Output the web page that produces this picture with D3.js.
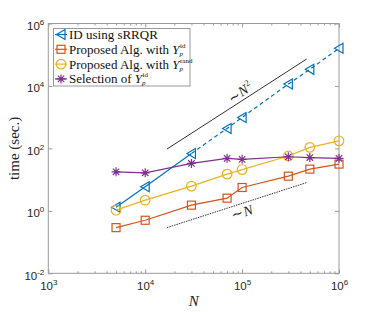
<!DOCTYPE html>
<html>
<head>
<meta charset="utf-8">
<script src="https://cdn.jsdelivr.net/npm/d3@7"></script>
<style>
  body { margin: 0; background: #fff; }
  svg { display: block; }
</style>
</head>
<body>
<svg id="chart"></svg>
<script>
// problem sizes
const sizes = [5e3, 1e4, 3e4, 7e4, 1e5, 3e5, 5e5, 1e6];

// timings (sec.)
const idSrrqr   = [1.3, 5.9, 69, 436, 980, 11500, 34000, 161000];
const propId    = [0.29, 0.50, 1.52, 2.55, 5.6, 12.9, 21.7, 31.5];
const propRand  = [1.05, 2.2, 6.2, 15, 21, 57, 108, 175];
const selection = [17.8, 16.5, 33, 48, 44.6, 54, 51, 48];

// guide lines
const guideN = [16750, 465000];
const guideN2 = [95, 73200];
const guideN1 = [0.29, 8.05];

const xMajor = [1e3, 1e4, 1e5, 1e6];
const yMajor = [1e-2, 1e0, 1e2, 1e4, 1e6];

const W = 374, H = 312;
const margin = { top: 23.5, right: 35, bottom: 38.7, left: 48.3 };
const iw = W - margin.left - margin.right;
const ih = H - margin.top - margin.bottom;

const svg = d3.select('#chart').attr('width', W).attr('height', H);
const g = svg.append('g').attr('transform', `translate(${margin.left},${margin.top})`);

const x = d3.scaleLog().domain([1e3, 1e6]).range([0, iw]);
const y = d3.scaleLog().domain([1e-2, 1e6]).range([ih, 0]);

const axisColor = '#9a9a9a';
const sans = 'Liberation Sans, Arial, sans-serif';
const serif = 'Liberation Serif, Times New Roman, serif';

// minor x ticks
let xMinor = [];
for (let d = 1e3; d < 1e6; d *= 10) {
    for (let k = 2; k <= 9; k++) xMinor.push(d * k);
}

function styleAxis(sel) {
    sel.select('.domain').remove();
    sel.selectAll('line').attr('stroke', axisColor).attr('stroke-width', 1);
}

g.append('g').attr('transform', `translate(0,${ih})`)
    .call(d3.axisBottom(x).tickValues(xMinor).tickSize(-2).tickFormat(''))
    .call(styleAxis);
g.append('g')
    .call(d3.axisTop(x).tickValues(xMinor).tickSize(-2).tickFormat(''))
    .call(styleAxis);
g.append('g').call(d3.axisTop(x).tickValues(xMajor).tickSize(-4).tickFormat('')).call(styleAxis);
g.append('g').attr('transform', `translate(${iw},0)`)
    .call(d3.axisRight(y).tickValues(yMajor).tickSize(-4).tickFormat('')).call(styleAxis);

const xAx = g.append('g').attr('transform', `translate(0,${ih})`)
    .call(d3.axisBottom(x).tickValues(xMajor).tickSize(-4).tickFormat(''))
    .call(styleAxis);
const yAx = g.append('g')
    .call(d3.axisLeft(y).tickValues(yMajor).tickSize(-4).tickFormat(''))
    .call(styleAxis);

// superscript tick labels
xAx.selectAll('.tick').append('text')
    .attr('y', 17).attr('x', 0).attr('text-anchor', 'middle')
    .attr('fill', '#262626').attr('font-family', sans).attr('font-size', 11.5)
    .each(function (d) {
        const t = d3.select(this);
        t.append('tspan').text('10');
        t.append('tspan').attr('font-size', 8).attr('dy', -5).text(Math.round(Math.log10(d)));
    });

yAx.selectAll('.tick').append('text')
    .attr('x', -4).attr('y', 6).attr('text-anchor', 'end')
    .attr('fill', '#262626').attr('font-family', sans).attr('font-size', 11.5)
    .each(function (d) {
        const t = d3.select(this);
        t.append('tspan').text('10');
        t.append('tspan').attr('font-size', 8).attr('dy', -5).text(Math.round(Math.log10(d)));
    });

// box
g.append('rect').attr('width', iw).attr('height', ih)
    .attr('fill', 'none').attr('stroke', axisColor).attr('stroke-width', 1);

// guide lines
const line = d3.line().x(d => x(d[0])).y(d => y(d[1]));
g.append('path').datum(d3.zip(guideN, guideN2)).attr('d', line)
    .attr('fill', 'none').attr('stroke', '#333').attr('stroke-width', 1);
g.append('path').datum(d3.zip(guideN, guideN1)).attr('d', line)
    .attr('fill', 'none').attr('stroke', '#333').attr('stroke-width', 1)
    .attr('stroke-dasharray', '1.5,1');

function guideLabel(xv, yv, angle, sup) {
    const t = g.append('text')
        .attr('transform', `translate(${x(xv)},${y(yv)}) rotate(${angle})`)
        .attr('text-anchor', 'middle').attr('y', 5)
        .attr('font-family', serif).attr('font-size', 14).attr('fill', '#222');
    t.append('tspan').text('∼');
    t.append('tspan').attr('font-style', 'italic').text('N');
    if (sup) t.append('tspan').attr('font-size', 9).attr('dy', -6).attr('dx', 0.5).text(sup);
}
guideLabel(9.5e4, 6300, -33, '2');
guideLabel(1e5, 0.9, -18, null);

// series
const series = [
    { name: 'id', vals: idSrrqr, color: '#0072BD', marker: 'tri' },
    { name: 'pid', vals: propId, color: '#D95319', marker: 'sq' },
    { name: 'prand', vals: propRand, color: '#EDB120', marker: 'circ' },
    { name: 'sel', vals: selection, color: '#7E2F8E', marker: 'star' },
];

function drawMarker(sel, type, color) {
    if (type === 'tri') {
        sel.append('path').attr('d', 'M-4.5,0L4,-5L4,5Z')
            .attr('fill', 'none').attr('stroke', color).attr('stroke-width', 1.2);
    } else if (type === 'sq') {
        sel.append('rect').attr('x', -4).attr('y', -4).attr('width', 8).attr('height', 8)
            .attr('fill', 'none').attr('stroke', color).attr('stroke-width', 1.2);
    } else if (type === 'circ') {
        sel.append('circle').attr('r', 4.8)
            .attr('fill', 'none').attr('stroke', color).attr('stroke-width', 1.2);
    } else {
        sel.append('path').attr('d', 'M-4.5,0H4.5M0,-4.5V4.5M-3.2,-3.2L3.2,3.2M-3.2,3.2L3.2,-3.2')
            .attr('fill', 'none').attr('stroke', color).attr('stroke-width', 1.2);
    }
}

series.forEach(s => {
    const pts = d3.zip(sizes, s.vals);
    if (s.marker === 'tri') {
        g.append('path').datum(pts.slice(0, 3)).attr('d', line)
            .attr('fill', 'none').attr('stroke', s.color).attr('stroke-width', 1.2);
        g.append('path').datum(pts.slice(2)).attr('d', line)
            .attr('fill', 'none').attr('stroke', s.color).attr('stroke-width', 1.2)
            .attr('stroke-dasharray', '4,3');
    } else {
        g.append('path').datum(pts).attr('d', line)
            .attr('fill', 'none').attr('stroke', s.color).attr('stroke-width', 1.2);
    }
    g.selectAll(null).data(pts).enter().append('g')
        .attr('transform', d => `translate(${x(d[0])},${y(d[1])})`)
        .each(function () { drawMarker(d3.select(this), s.marker, s.color); });
});

// legend
const lg = svg.append('g').attr('transform', 'translate(53.5,28.5)');
lg.append('rect').attr('width', 136.5).attr('height', 57.5)
    .attr('fill', '#fff').attr('stroke', axisColor).attr('stroke-width', 1);

const legendMain = ['ID using sRRQR', 'Proposed Alg. with ', 'Proposed Alg. with ', 'Selection of '];
const legendSup = [null, 'id', 'rand', 'id'];

series.forEach((s, i) => {
    const row = lg.append('g').attr('transform', `translate(0,${6 + i * 14.8})`);
    row.append('line').attr('x1', 1.5).attr('x2', 13.5)
        .attr('stroke', s.color).attr('stroke-width', 1.2);
    const m = row.append('g').attr('transform', 'translate(7.5,0)');
    drawMarker(m, s.marker, s.color);
    const txt = row.append('text').attr('x', 15.5).attr('y', 4.5)
        .attr('font-family', serif).attr('font-size', 13).attr('fill', '#111');
    txt.append('tspan').text(legendMain[i]);
    if (legendSup[i]) {
        txt.append('tspan').attr('font-style', 'italic').text('Y');
        const end = 15.5 + txt.node().getComputedTextLength();
        txt.append('tspan').attr('x', end).attr('y', 6.5)
            .attr('font-size', 7).attr('font-style', 'italic').text('p');
        txt.append('tspan').attr('x', end + 0.5).attr('y', -1.5)
            .attr('font-size', 7).text(legendSup[i]);
    }
});

// axis titles
svg.append('text').attr('transform', `translate(14,${margin.top + ih / 2}) rotate(-90)`)
    .attr('text-anchor', 'middle').attr('dominant-baseline', 'central')
    .attr('font-family', serif).attr('font-size', 15)
    .attr('fill', '#222').text('time (sec.)');
svg.append('text').attr('x', margin.left + iw / 2).attr('y', 306)
    .attr('text-anchor', 'middle').attr('font-family', serif).attr('font-size', 15)
    .attr('font-style', 'italic').attr('fill', '#222').text('N');
</script>
</body>
</html>
